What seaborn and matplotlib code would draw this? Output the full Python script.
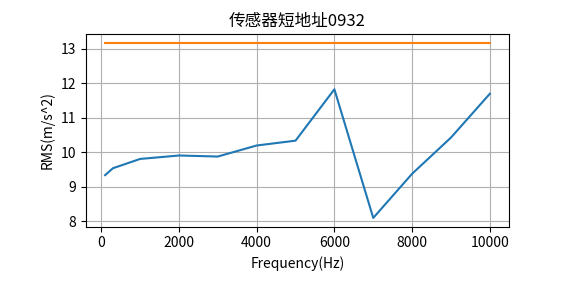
import matplotlib
matplotlib.use("Agg")
import matplotlib.pyplot as plt
import seaborn as sns
import pandas as pd

plt.rcParams['font.family'] = ['Noto Sans CJK SC', 'DejaVu Sans']
plt.rcParams['axes.unicode_minus'] = False

freq = [100, 300, 1000, 2000, 3000, 4000, 5000, 6000, 7000, 8000, 9000, 10000]
rms = [9.34, 9.54, 9.81, 9.91, 9.88, 10.20, 10.34, 11.83, 8.10, 9.38, 10.43, 11.70]
limit_x = [100, 10000]
limit_y = [13.18, 13.18]

title = "传感器短地址0932"
xlabel = "Frequency(Hz)"
ylabel = "RMS(m/s^2)"

df = pd.DataFrame({"freq": freq, "rms": rms})
df_lim = pd.DataFrame({"freq": limit_x, "rms": limit_y})

fig, ax = plt.subplots(figsize=(5.65, 2.83), dpi=100)
fig.subplots_adjust(left=0.152, right=0.901, top=0.880, bottom=0.199)

sns.lineplot(data=df, x="freq", y="rms", ax=ax, color="#1f77b4", linewidth=1.5)
sns.lineplot(data=df_lim, x="freq", y="rms", ax=ax, color="#ff7f0e", linewidth=1.5)

ax.set_xticks([0, 2000, 4000, 6000, 8000, 10000])
ax.set_yticks([8, 9, 10, 11, 12, 13])
ax.grid(True, color="#b0b0b0", linewidth=0.8)
ax.set_title(title, fontsize=12)
ax.set_xlabel(xlabel, fontsize=10)
ax.set_ylabel(ylabel, fontsize=10)
ax.tick_params(labelsize=10)

fig.savefig("out.png", dpi=100)
